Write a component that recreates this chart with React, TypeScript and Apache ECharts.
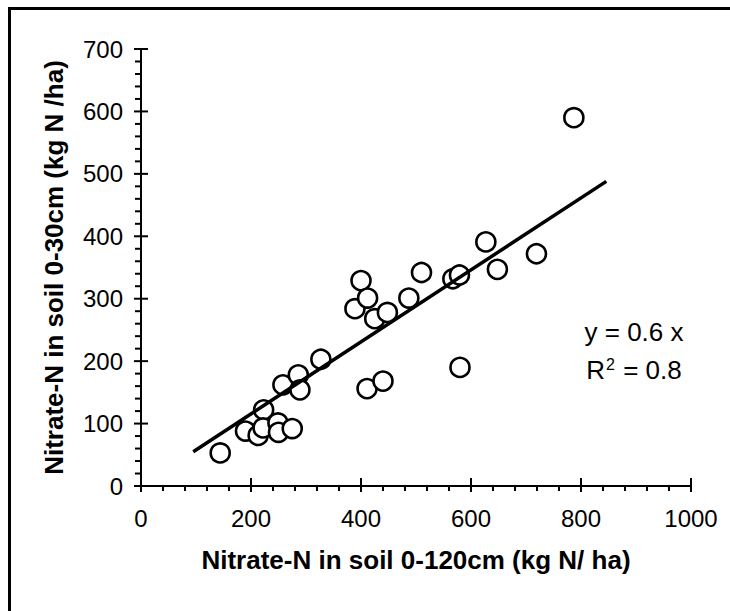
import React, { useEffect, useRef } from "react";
import * as echarts from "echarts";

const xValues = [144, 190, 213, 223, 222, 249, 250, 275, 258, 286, 289, 327, 389, 400, 412, 425, 448, 411, 440, 487, 510, 567, 579, 580, 627, 648, 719, 787];
const yValues = [53, 88, 81, 122, 93, 101, 86, 92, 162, 178, 154, 203, 284, 329, 301, 268, 278, 156, 168, 301, 342, 332, 338, 190, 391, 347, 372, 590];
const fitX = [95, 846];
const fitY = [55, 488];
const xTitle = "Nitrate-N in soil 0-120cm (kg N/ ha)";
const yTitle = "Nitrate-N in soil 0-30cm (kg N /ha)";
const eqText = "y = 0.6 x";
const r2Text = "R{sup|2} = 0.8";

const X_MAX = 1000, X_MAJOR = 200, X_MINOR = 40;
const Y_MAX = 700, Y_MAJOR = 100, Y_MINOR = 20;

const FONT = "'Liberation Sans', Arial, Helvetica, sans-serif";

export default function App() {
  const ref = useRef<HTMLDivElement>(null);
  useEffect(() => {
    if (!ref.current) return;
    const chart = echarts.init(ref.current, undefined, { renderer: "svg" });
    const pts = xValues.map((x, i) => [x, yValues[i]]);
    const fit = fitX.map((x, i) => [x, fitY[i]]);
    const lineStyle = { color: "#000", width: 2 };
    const fmt = (v: number) => String(v);
    const tickRender = (_params: any, api: any) => {
      const children: any[] = [];
      const st = { stroke: "#000", lineWidth: 2 };
      for (let v = 0; v <= X_MAX + 1e-9; v += X_MINOR) {
        const p = api.coord([v, 0]);
        const major = Math.abs(v % X_MAJOR) < 1e-9;
        children.push({
          type: "line",
          shape: { x1: p[0], y1: p[1] - (major ? 8 : 0), x2: p[0], y2: p[1] + (major ? 6 : 5) },
          style: st,
        });
      }
      for (let v = 0; v <= Y_MAX + 1e-9; v += Y_MINOR) {
        const p = api.coord([0, v]);
        const major = Math.abs(v % Y_MAJOR) < 1e-9;
        children.push({
          type: "line",
          shape: { x1: p[0] - (major ? 7 : 6), y1: p[1], x2: p[0] + (major ? 7 : 0), y2: p[1] },
          style: st,
        });
      }
      return { type: "group", children };
    };
    chart.setOption({
      animation: false,
      backgroundColor: "#fff",
      grid: { left: 141, top: 49, width: 550, height: 437, containLabel: false },
      xAxis: {
        type: "value", min: 0, max: X_MAX, interval: X_MAJOR, position: "bottom",
        axisLine: { show: true, onZero: false, lineStyle },
        axisTick: { show: false },
        splitLine: { show: false },
        axisLabel: { fontFamily: FONT, fontSize: 24, color: "#000", margin: 20, formatter: fmt },
        name: xTitle, nameLocation: "middle", nameGap: 61,
        nameTextStyle: { fontFamily: FONT, fontSize: 26, fontWeight: "bold", color: "#000" },
      },
      yAxis: {
        type: "value", min: 0, max: Y_MAX, interval: Y_MAJOR, position: "left",
        axisLine: { show: true, onZero: false, lineStyle },
        axisTick: { show: false },
        splitLine: { show: false },
        axisLabel: { fontFamily: FONT, fontSize: 24, color: "#000", margin: 18, formatter: fmt },
        name: yTitle, nameLocation: "middle", nameGap: 74, nameRotate: 90,
        nameTextStyle: { fontFamily: FONT, fontSize: 26, fontWeight: "bold", color: "#000" },
      },
      series: [
        {
          type: "custom", data: [[0, 0]], renderItem: tickRender, clip: false, silent: true, z: 1,
        },
        {
          type: "scatter", data: pts,
          symbol: "circle", symbolSize: 19,
          itemStyle: { color: "#fff", borderColor: "#000", borderWidth: 2.6, opacity: 1 },
          z: 4,
        },
        {
          type: "line", data: fit,
          symbol: "none", lineStyle: { color: "#000", width: 3.5 }, z: 5,
        },
      ],
      graphic: [
        { type: "rect", left: 8, top: 7, shape: { width: 722, height: 3 }, style: { fill: "#000" } },
        { type: "rect", left: 8, top: 7, shape: { width: 3, height: 604 }, style: { fill: "#000" } },
        {
          type: "text", x: 634, y: 332,
          style: { text: eqText, font: `26px ${FONT}`, fill: "#000", align: "center", verticalAlign: "middle" },
        },
        {
          type: "text", x: 634, y: 370,
          style: {
            text: r2Text, font: `26px ${FONT}`, fill: "#000", align: "center", verticalAlign: "middle",
            rich: {
              sup: { fontSize: 16, fontFamily: FONT, fill: "#000", verticalAlign: "top", padding: [0, 1, 12, 1] },
            },
          },
        },
      ],
    });
    return () => chart.dispose();
  }, []);
  return <div ref={ref} style={{ position: "fixed", left: 0, top: 0, width: 730, height: 611 }} />;
}
